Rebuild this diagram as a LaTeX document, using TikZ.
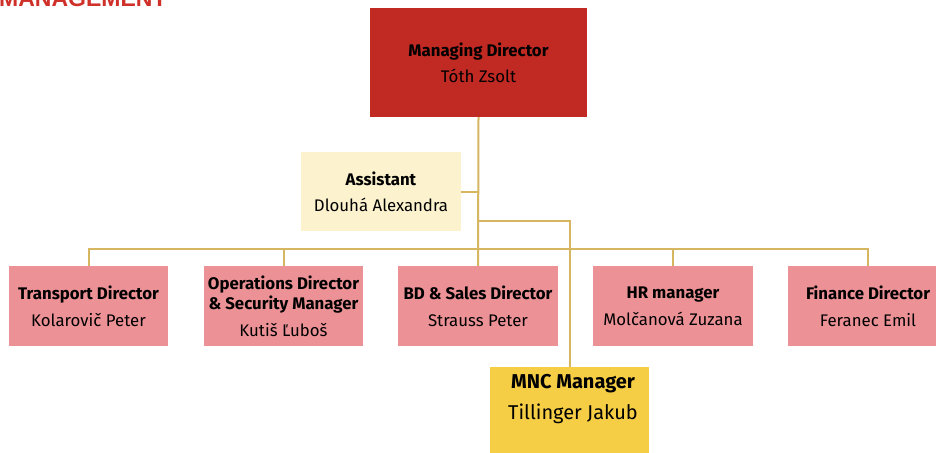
\documentclass[tikz,border=0pt]{standalone}
\usepackage{fontspec}
\setmainfont{Fira Sans}
\newfontfamily\titlefont{Liberation Sans}
\definecolor{mdred}{RGB}{193,41,35}
\definecolor{pinkbox}{RGB}{236,146,150}
\definecolor{asstbox}{RGB}{252,243,206}
\definecolor{mncbox}{RGB}{246,206,70}
\definecolor{titlered}{RGB}{208,48,42}
\definecolor{linegold}{RGB}{214,182,96}
\tikzset{
  orgbox/.style={rectangle, inner sep=0pt, minimum width=160pt, minimum height=80pt, align=center, text=black, font=\fontsize{16.8}{27}\selectfont},
  deptbox/.style={orgbox, fill=pinkbox},
  conn/.style={draw=linegold, line width=2pt}
}
\begin{document}
\begin{tikzpicture}[x=1pt,y=-1pt]
\useasboundingbox (0,0) rectangle (936,452);
\clip (0,0) rectangle (936,452);
\fill[white] (0,0) rectangle (936,452);
\node[anchor=base west, inner sep=0pt, font=\titlefont\bfseries\fontsize{23}{23}\selectfont, text=titlered] (title) at (-1,7) {MANAGEMENT};
% boxes
\node[orgbox, fill=mdred, minimum width=217pt, minimum height=109pt, font=\fontsize{16.8}{26}\selectfont] (md) at (478.5,62.5) {\textbf{Managing Director}\\Tóth Zsolt};
\node[orgbox, fill=asstbox, minimum height=79pt, font=\fontsize{16.8}{26}\selectfont] (asst) at (381,191.5) {\textbf{Assistant}\\Dlouhá Alexandra};
\node[deptbox, minimum width=159pt] (tr) at (88.5,306) {\textbf{Transport Director}\\Kolarovič Peter};
\node[deptbox, minimum width=159pt] (ops) at (283.5,306) {\textbf{Operations Director}\\[-7pt]\textbf{\& Security Manager}\\Kutiš Ľuboš};
\node[deptbox] (bd) at (478,306) {\textbf{BD \& Sales Director}\\Strauss Peter};
\node[deptbox] (hr) at (673,306) {\textbf{HR manager}\\Molčanová Zuzana};
\node[deptbox] (fin) at (868,306) {\textbf{Finance Director}\\Feranec Emil};
\node[orgbox, fill=mncbox, minimum width=159pt, minimum height=100pt] (mnc) at (569.5,417) {};
\node[inner sep=0pt, align=center, font=\fontsize{20}{31}\selectfont] (mnctext) at (573,399) {\textbf{MNC Manager}\\Tillinger Jakub};
% connectors
\coordinate (bus) at (0,249);
\coordinate (split) at (478,221);
\draw[conn] (md.south) -- (bd.north);
\draw[conn] (asst.east) -- (asst.east -| md.south);
\draw[conn] (split) -| (mnc.north);
\draw[conn] (tr.north) -- (tr.north |- bus) -- (fin.north |- bus) -- (fin.north);
\draw[conn] (ops.north) -- (ops.north |- bus);
\draw[conn] (hr.north) -- (hr.north |- bus);
\end{tikzpicture}
\end{document}
